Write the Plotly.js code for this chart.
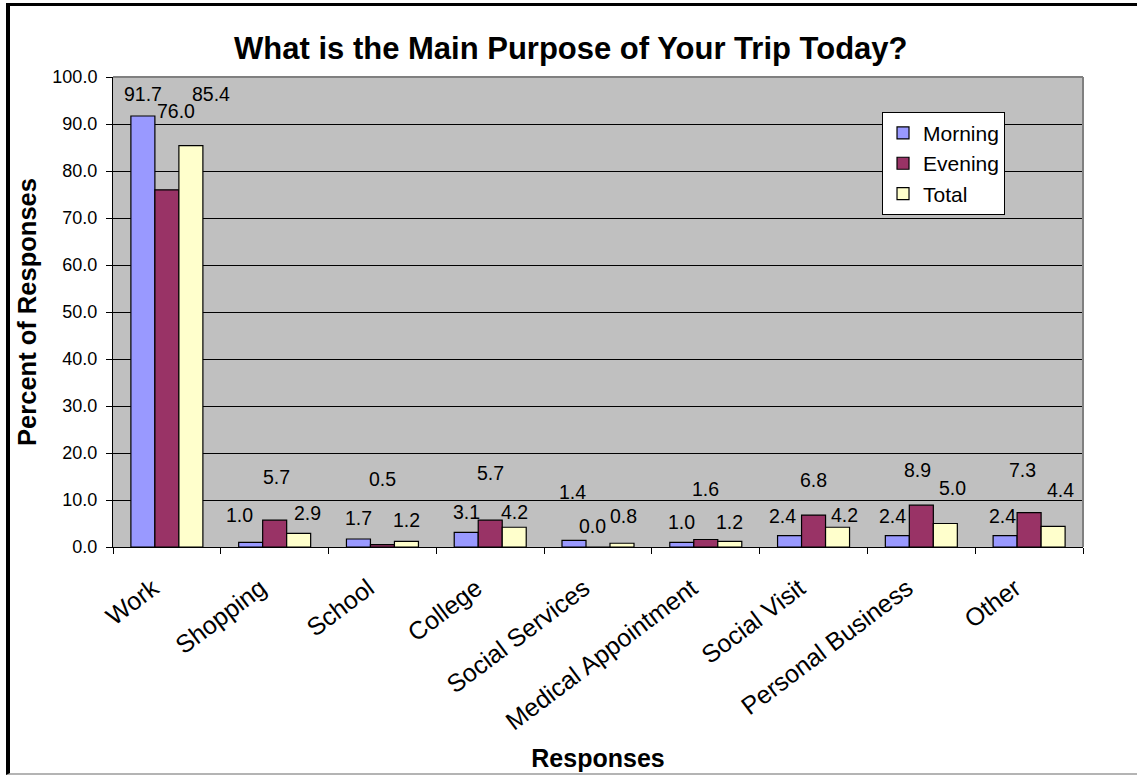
<!DOCTYPE html>
<html>
<head>
<meta charset="utf-8">
<script src="https://cdn.plot.ly/plotly-3.0.1.min.js"></script>
<style>
  html, body { margin: 0; padding: 0; background: #ffffff; }
  #wrap { position: relative; width: 1137px; height: 778px; }
  #chart { position: absolute; left: 0; top: 0; width: 1137px; height: 778px; }
  /* frame around the chart sheet */
  #frame {
    position: absolute; left: 6px; top: 3px; width: 1131px; height: 772px;
    border-top: 3px solid #000; border-left: 4px solid #000; border-bottom: 2px solid #b4b4b4;
    box-sizing: border-box; pointer-events: none;
  }
</style>
</head>
<body>
<div id="wrap">
  <div id="chart"></div>
  <div id="frame"></div>
</div>
<script>
// Survey categories and response shares (%)
const categories = ["Work", "Shopping", "School", "College", "Social Services",
                    "Medical Appointment", "Social Visit", "Personal Business", "Other"];
const morning = [91.7, 1.0, 1.7, 3.1, 1.4, 1.0, 2.4, 2.4, 2.4];
const evening = [76.0, 5.7, 0.5, 5.7, 0.0, 1.6, 6.8, 8.9, 7.3];
const total   = [85.4, 2.9, 1.2, 4.2, 0.8, 1.2, 4.2, 5.0, 4.4];
const yTicks  = [0, 10, 20, 30, 40, 50, 60, 70, 80, 90, 100];

// Value-label placement (height in axis units, horizontal nudge in px)
const labelHeightMorning = [96.3, 6.9, 6.2, 7.5, 11.8, 5.4, 6.7, 6.7, 6.7];
const labelHeightEvening = [92.7, 14.9, 14.4, 15.8, 4.5, 12.4, 14.3, 16.3, 16.3];
const labelHeightTotal   = [96.3, 7.3, 5.8, 7.5, 6.7, 5.4, 6.9, 12.6, 12.2];
const nudgeMorning = [0, -11, 0, 0, -2, 0, -7, -5, -3];
const nudgeEvening = [9, 2, 0, 0, -6, 0, 0, -4, -7];
const nudgeTotal   = [20, 9, 0, 0, 1, 0, 7, 7, 7];

const FONT = "Arial, 'Liberation Sans', sans-serif";
const BAR_PX = 24;

function barTrace(name, values, color) {
  return {
    type: "bar", name: name, x: categories, y: values,
    marker: { color: color, line: { color: "#000000", width: 1.2 } },
    hoverinfo: "skip"
  };
}

const data = [
  barTrace("Morning", morning, "#9999FF"),
  barTrace("Evening", evening, "#993366"),
  barTrace("Total", total, "#FFFFCC")
];

const seriesLabels = [
  [morning, labelHeightMorning, nudgeMorning, -BAR_PX],
  [evening, labelHeightEvening, nudgeEvening, 0],
  [total, labelHeightTotal, nudgeTotal, BAR_PX]
];
const annotations = [];
seriesLabels.forEach(([vals, heights, nudges, offset]) => {
  vals.forEach((v, i) => {
    annotations.push({
      x: categories[i], y: heights[i], xref: "x", yref: "y",
      text: v.toFixed(1), showarrow: false,
      xshift: offset + nudges[i], yanchor: "middle", xanchor: "center",
      font: { family: FONT, size: 19.5, color: "#000000" }
    });
  });
});

const layout = {
  width: 1137, height: 778,
  margin: { l: 113, r: 54, t: 77, b: 231, pad: 0 },
  paper_bgcolor: "rgba(0,0,0,0)",
  plot_bgcolor: "#C0C0C0",
  font: { family: FONT, color: "#000000" },
  barmode: "group", bargap: 0.332, bargroupgap: 0,
  title: {
    text: "<b>What is the Main Purpose of Your Trip Today?</b>",
    font: { family: FONT, size: 31, color: "#000000" },
    x: 0.502, xref: "container", xanchor: "center",
    y: 1 - 48 / 778, yref: "container", yanchor: "middle"
  },
  xaxis: {
    type: "category",
    tickangle: -37,
    tickson: "boundaries",
    ticks: "outside", ticklen: 6, tickcolor: "#000000", tickwidth: 1,
    ticklabelstandoff: 16, ticklabelshift: -14,
    showline: true, linecolor: "#000000", linewidth: 1,
    showgrid: false, zeroline: false,
    tickfont: { family: FONT, size: 25, color: "#000000" },
    title: { text: "<b>Responses</b>", font: { family: FONT, size: 25, color: "#000000" }, standoff: 15 },
    automargin: false, fixedrange: true
  },
  yaxis: {
    range: [0, 100],
    tickmode: "array", tickvals: yTicks, ticktext: yTicks.map(v => v.toFixed(1)),
    ticks: "outside", ticklen: 6, tickcolor: "#000000", tickwidth: 1,
    ticklabelstandoff: 5,
    showline: true, linecolor: "#000000", linewidth: 1,
    showgrid: true, gridcolor: "#000000", gridwidth: 1,
    zeroline: false,
    tickfont: { family: FONT, size: 18, color: "#000000" },
    title: { text: "<b>Percent of Responses</b>", font: { family: FONT, size: 25.5, color: "#000000" }, standoff: 8 },
    automargin: false, fixedrange: true
  },
  legend: {
    x: 0.7928, y: 0.926, xanchor: "left", yanchor: "top",
    bgcolor: "#FFFFFF", bordercolor: "#000000", borderwidth: 1,
    font: { family: FONT, size: 21, color: "#000000" },
    traceorder: "normal"
  },
  shapes: [
    { type: "line", xref: "paper", yref: "paper", x0: 0, x1: 1, y0: 1, y1: 1,
      line: { color: "#808080", width: 2 }, layer: "above" },
    { type: "line", xref: "paper", yref: "paper", x0: 1, x1: 1, y0: 0, y1: 1,
      line: { color: "#808080", width: 2 }, layer: "above" }
  ],
  annotations: annotations,
  showlegend: true
};

Plotly.newPlot("chart", data, layout, { displayModeBar: false, staticPlot: true });
</script>
</body>
</html>
